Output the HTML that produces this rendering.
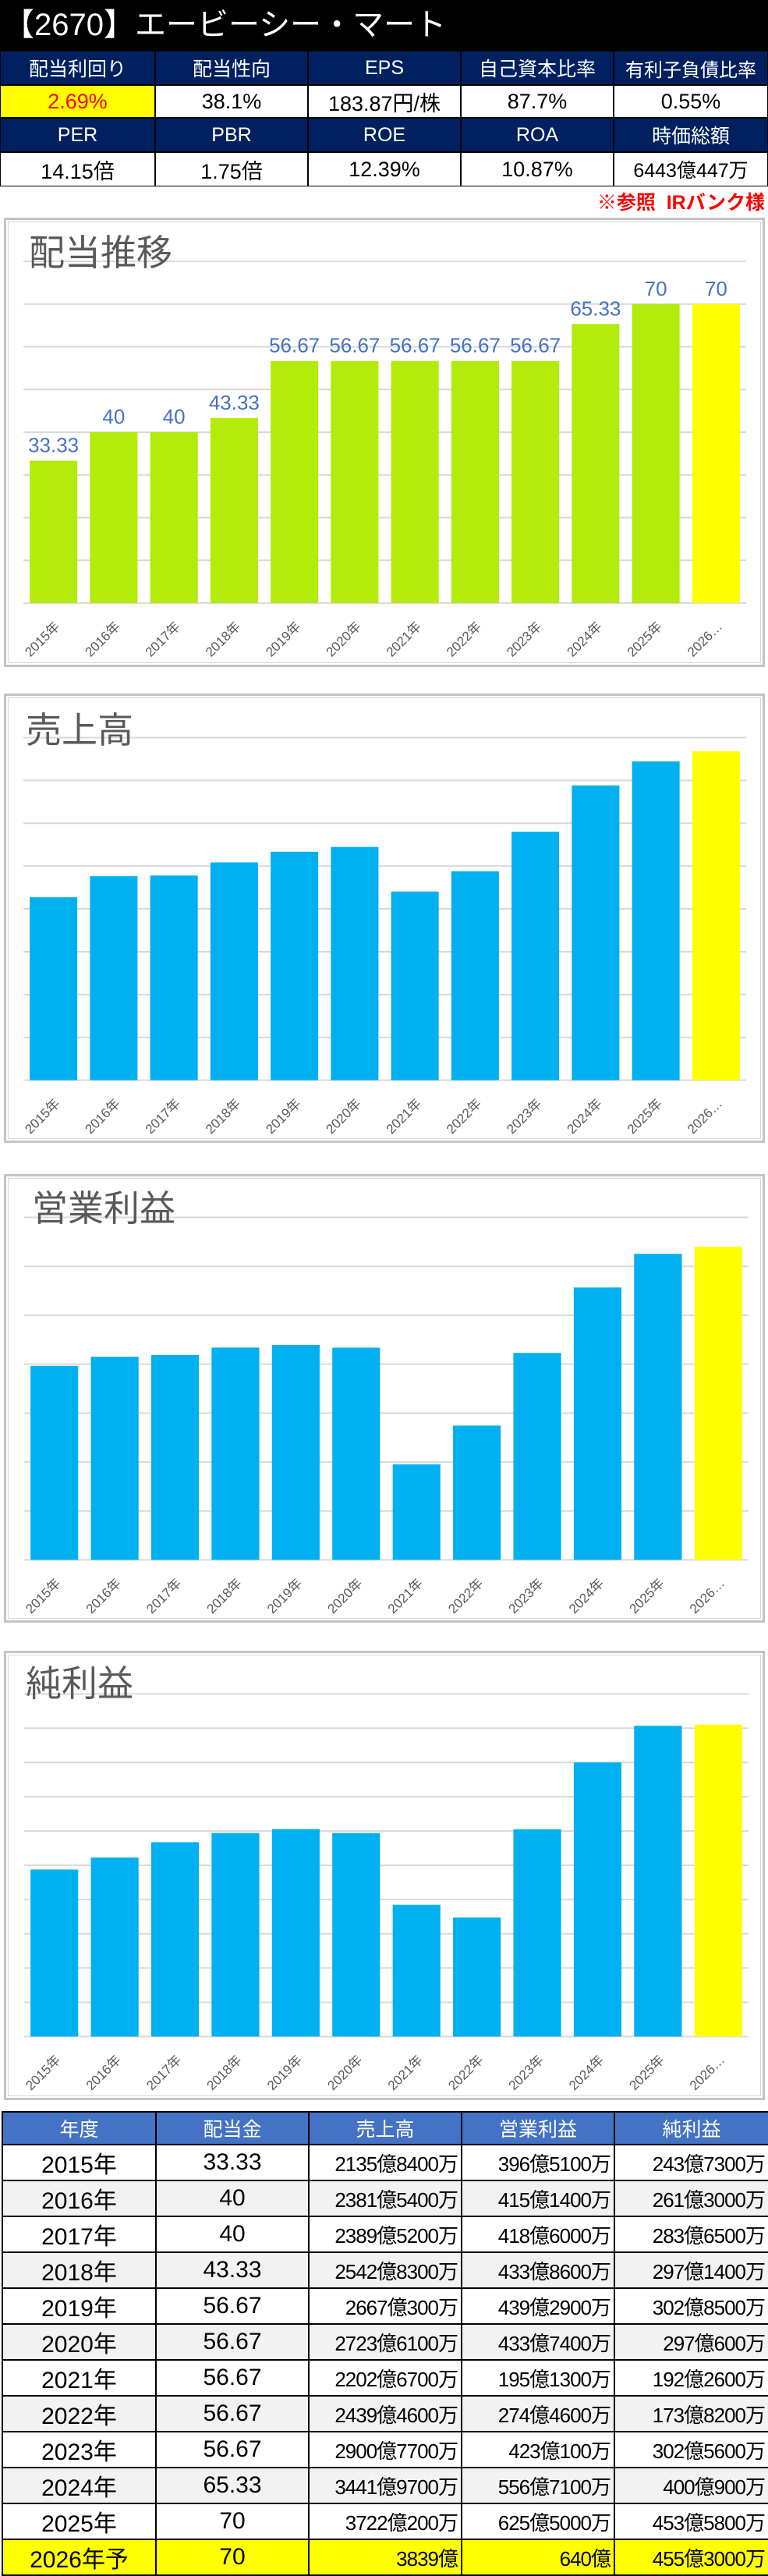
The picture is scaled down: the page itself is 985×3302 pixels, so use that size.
<!DOCTYPE html>
<html><head><meta charset="utf-8">
<style>
body{margin:0;width:985px;height:3298px;position:relative;background:#fff;font-family:"Liberation Sans","Noto Sans CJK JP",sans-serif;overflow:hidden}
.abs{position:absolute;box-sizing:border-box}
.cell{position:absolute;box-sizing:border-box;display:flex;align-items:center;justify-content:center;border:1px solid #000;white-space:nowrap}
.h{background:#002060;color:#fff;font-size:25px}
.v{background:#fff;color:#000;font-size:27px}
.frame{position:absolute;left:5px;width:976px;border:3px solid #c4c4c4;box-shadow:inset 0 0 0 2px #fff,inset 0 0 0 3px #d6d6d6;box-sizing:border-box}
table.dt{position:absolute;left:2px;top:2706px;width:983px;border-collapse:collapse;table-layout:fixed}
table.dt td{border:2px solid #000;height:41px;padding:0 4px;font-size:30px;text-align:center;white-space:nowrap;overflow:hidden}
table.dt td.n{font-size:26px;text-align:right;letter-spacing:-1px}
table.dt tr.hd td{background:#4472c4;color:#fff;font-size:25px;height:40px}
table.dt tr.g td{background:#f2f2f2}
table.dt tr.y td{background:#ffff00}
</style></head><body>
<div class="abs" style="left:0;top:0;width:985px;height:65px;background:#000;color:#fff;font-size:40px;line-height:65px;padding-left:4px">【2670】エービーシー・マート</div>

<div class="cell h" style="left:0;top:65px;width:199px;height:44px">配当利回り</div>
<div class="cell h" style="left:199px;top:65px;width:196px;height:44px">配当性向</div>
<div class="cell h" style="left:395px;top:65px;width:196px;height:44px">EPS</div>
<div class="cell h" style="left:591px;top:65px;width:196px;height:44px">自己資本比率</div>
<div class="cell h" style="left:787px;top:65px;width:198px;height:44px;font-size:24px">有利子負債比率</div>

<div class="cell v" style="left:0;top:109px;width:199px;height:42px;background:#ffff00;color:#ff0000">2.69%</div>
<div class="cell v" style="left:199px;top:109px;width:196px;height:42px">38.1%</div>
<div class="cell v" style="left:395px;top:109px;width:196px;height:42px">183.87円/株</div>
<div class="cell v" style="left:591px;top:109px;width:196px;height:42px">87.7%</div>
<div class="cell v" style="left:787px;top:109px;width:198px;height:42px">0.55%</div>

<div class="cell h" style="left:0;top:151px;width:199px;height:44px">PER</div>
<div class="cell h" style="left:199px;top:151px;width:196px;height:44px">PBR</div>
<div class="cell h" style="left:395px;top:151px;width:196px;height:44px">ROE</div>
<div class="cell h" style="left:591px;top:151px;width:196px;height:44px">ROA</div>
<div class="cell h" style="left:787px;top:151px;width:198px;height:44px">時価総額</div>

<div class="cell v" style="left:0;top:195px;width:199px;height:44px">14.15倍</div>
<div class="cell v" style="left:199px;top:195px;width:196px;height:44px">1.75倍</div>
<div class="cell v" style="left:395px;top:195px;width:196px;height:44px">12.39%</div>
<div class="cell v" style="left:591px;top:195px;width:196px;height:44px">10.87%</div>
<div class="cell v" style="left:787px;top:195px;width:198px;height:44px;font-size:25px">6443億447万</div>

<div class="abs" style="right:4px;top:244px;color:#ff0000;font-size:25px;font-weight:bold;line-height:32px">※参照&nbsp; IRバンク様</div>

<div class="frame" style="top:279px;height:576px"></div>
<div class="frame" style="top:889px;height:576px"></div>
<div class="frame" style="top:1505px;height:575px"></div>
<div class="frame" style="top:2116px;height:576px"></div>

<svg id="charts" class="abs" style="left:0;top:0" width="985" height="2700" xmlns="http://www.w3.org/2000/svg"></svg>

<table class="dt">
<colgroup><col style="width:197px"><col style="width:196px"><col style="width:196px"><col style="width:196px"><col style="width:198px"></colgroup>
<tr class="hd"><td>年度</td><td>配当金</td><td>売上高</td><td>営業利益</td><td>純利益</td></tr>
<tr><td>2015年</td><td>33.33</td><td class="n">2135億8400万</td><td class="n">396億5100万</td><td class="n">243億7300万</td></tr>
<tr class="g"><td>2016年</td><td>40</td><td class="n">2381億5400万</td><td class="n">415億1400万</td><td class="n">261億3000万</td></tr>
<tr><td>2017年</td><td>40</td><td class="n">2389億5200万</td><td class="n">418億6000万</td><td class="n">283億6500万</td></tr>
<tr class="g"><td>2018年</td><td>43.33</td><td class="n">2542億8300万</td><td class="n">433億8600万</td><td class="n">297億1400万</td></tr>
<tr><td>2019年</td><td>56.67</td><td class="n">2667億300万</td><td class="n">439億2900万</td><td class="n">302億8500万</td></tr>
<tr class="g"><td>2020年</td><td>56.67</td><td class="n">2723億6100万</td><td class="n">433億7400万</td><td class="n">297億600万</td></tr>
<tr><td>2021年</td><td>56.67</td><td class="n">2202億6700万</td><td class="n">195億1300万</td><td class="n">192億2600万</td></tr>
<tr class="g"><td>2022年</td><td>56.67</td><td class="n">2439億4600万</td><td class="n">274億4600万</td><td class="n">173億8200万</td></tr>
<tr><td>2023年</td><td>56.67</td><td class="n">2900億7700万</td><td class="n">423億100万</td><td class="n">302億5600万</td></tr>
<tr class="g"><td>2024年</td><td>65.33</td><td class="n">3441億9700万</td><td class="n">556億7100万</td><td class="n">400億900万</td></tr>
<tr><td>2025年</td><td>70</td><td class="n">3722億200万</td><td class="n">625億5000万</td><td class="n">453億5800万</td></tr>
<tr class="y"><td>2026年予</td><td>70</td><td class="n">3839億</td><td class="n">640億</td><td class="n">455億3000万</td></tr>
</table>

<script>
const categories = ["2015年","2016年","2017年","2018年","2019年","2020年","2021年","2022年","2023年","2024年","2025年","2026…"];
const dividends = [33.33,40,40,43.33,56.67,56.67,56.67,56.67,56.67,65.33,70,70];
const dividendLabels = ["33.33","40","40","43.33","56.67","56.67","56.67","56.67","56.67","65.33","70","70"];
const sales = [2135.84,2381.54,2389.52,2542.83,2667.03,2723.61,2202.67,2439.46,2900.77,3441.97,3722.02,3839];
const operatingProfit = [396.51,415.14,418.60,433.86,439.29,433.74,195.13,274.46,423.01,556.71,625.50,640];
const netProfit = [243.73,261.30,283.65,297.14,302.85,297.06,192.26,173.82,302.56,400.09,453.58,455.30];
const dividendTicks = [0,10,20,30,40,50,60,70,80];
const salesTicks = [0,500,1000,1500,2000,2500,3000,3500,4000];
const opTicks = [0,100,200,300,400,500,600,700];
const netTicks = [0,50,100,150,200,250,300,350,400,450,500];

const NS = "http://www.w3.org/2000/svg";
const svg = document.getElementById("charts");
function mk(tag, attrs, parent){
  const e = document.createElementNS(NS, tag);
  for (const k in attrs) e.setAttribute(k, attrs[k]);
  (parent || svg).appendChild(e);
  return e;
}
function drawChart(cfg){
  const g = mk("g", {});
  
  
  const ticks = cfg.ticks, max = ticks[ticks.length-1];
  const y = v => cfg.base - (v / max) * (cfg.base - cfg.top);
  const band = (cfg.right - cfg.left) / categories.length;
  const bw = band * 0.79;
  const xc = i => cfg.left + band * (i + 0.5);
  ticks.forEach(t => {
    const ln = mk("line", {x1: cfg.left, x2: cfg.right, y1: y(t), y2: y(t), stroke: "#d9d9d9", "stroke-width": 2}, g);
    
    
  });
  const title = mk("text", {x: cfg.tx, y: cfg.ty, "font-size": 46, fill: "#595959", "font-family": '"Liberation Sans","Noto Sans CJK JP",sans-serif'}, g);
  title.textContent = cfg.title;
  
  
  cfg.values.forEach((v, i) => {
    const last = i === cfg.values.length - 1;
    const r = mk("rect", {x: xc(i) - bw/2, y: y(v), width: bw, height: cfg.base - y(v), fill: last ? "#ffff00" : cfg.color}, g);
    
    
    if (cfg.labels) {
      const t = mk("text", {x: xc(i), y: y(v) - 11, "font-size": 26, fill: "#4472c4", "text-anchor": "middle", "font-family": '"Liberation Sans",sans-serif'}, g);
      t.textContent = cfg.labels[i];
      
      
    }
    const lx = xc(i) + 9, ly = cfg.base + 31;
    const xl = mk("text", {x: lx, y: ly, "font-size": 17, fill: "#595959", "text-anchor": "end", transform: `rotate(-45 ${lx} ${ly})`, "font-family": '"Liberation Sans","Noto Sans CJK JP",sans-serif'}, g);
    xl.textContent = categories[i];
    
    
  });
}
drawChart({name:"dividend-chart", title:"配当推移", tx:37, ty:340, values:dividends, labels:dividendLabels, ticks:dividendTicks, color:"#b3eb0b", left:30, right:957, base:773, top:335});
drawChart({name:"sales-chart", title:"売上高", tx:33, ty:952, values:sales, ticks:salesTicks, color:"#00b0f0", left:30, right:957, base:1384.6, top:945.5});
drawChart({name:"operating-profit-chart", title:"営業利益", tx:41, ty:1565, values:operatingProfit, ticks:opTicks, color:"#00b0f0", left:31, right:960, base:1999.5, top:1560.5});
drawChart({name:"net-profit-chart", title:"純利益", tx:33, ty:2174, values:netProfit, ticks:netTicks, color:"#00b0f0", left:31, right:960, base:2610.5, top:2171.4});
</script>
</body></html>
